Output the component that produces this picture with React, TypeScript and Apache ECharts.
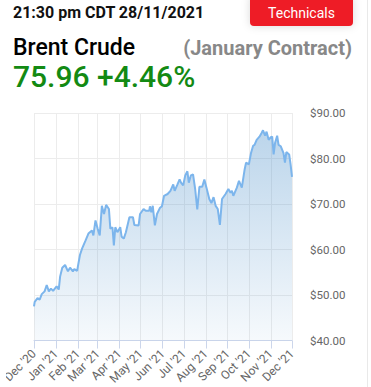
import React, { useEffect, useRef } from "react";
import * as echarts from "echarts";

const priceDates: string[] = [
  "2020-12-01","2020-12-02","2020-12-06","2020-12-09","2020-12-12","2020-12-16","2020-12-19","2020-12-22","2020-12-25","2020-12-28",
  "2021-01-02","2021-01-05","2021-01-07","2021-01-10","2021-01-14","2021-01-18","2021-01-21","2021-01-25","2021-01-27","2021-01-31",
  "2021-02-04","2021-02-07","2021-02-12","2021-02-16","2021-02-21","2021-02-23","2021-02-26",
  "2021-03-01","2021-03-04","2021-03-07","2021-03-10","2021-03-13","2021-03-17","2021-03-19","2021-03-22","2021-03-24","2021-03-26","2021-03-29",
  "2021-04-02","2021-04-04","2021-04-07","2021-04-10","2021-04-15","2021-04-20","2021-04-22","2021-04-28","2021-04-30",
  "2021-05-05","2021-05-08","2021-05-13","2021-05-14","2021-05-16","2021-05-18","2021-05-21","2021-05-24","2021-05-28","2021-05-31",
  "2021-06-03","2021-06-08","2021-06-12","2021-06-16","2021-06-18","2021-06-22","2021-06-25","2021-06-27","2021-06-30",
  "2021-07-03","2021-07-06","2021-07-08","2021-07-11","2021-07-14","2021-07-17","2021-07-20","2021-07-23","2021-07-27","2021-07-30",
  "2021-08-02","2021-08-06","2021-08-09","2021-08-12","2021-08-15","2021-08-18","2021-08-21","2021-08-24","2021-08-29",
  "2021-09-02","2021-09-05","2021-09-07","2021-09-09","2021-09-14","2021-09-17","2021-09-21","2021-09-25","2021-09-27",
  "2021-10-01","2021-10-04","2021-10-07","2021-10-09","2021-10-12","2021-10-16","2021-10-19","2021-10-21","2021-10-24","2021-10-26","2021-10-29",
  "2021-11-01","2021-11-03","2021-11-05","2021-11-07","2021-11-10","2021-11-12","2021-11-15","2021-11-19","2021-11-21","2021-11-23","2021-11-27","2021-11-29",
  "2021-12-01",
];

const priceValues: number[] = [
  47.5,48.5,49.3,49.0,50.2,50.8,52.2,50.8,51.4,50.9,
  51.9,51.2,54.1,56.0,56.6,55.2,56.0,55.2,55.7,55.3,
  58.8,60.2,62.0,63.5,64.2,63.1,66.4,
  64.6,63.1,69.6,67.8,69.8,68.9,64.6,64.9,60.9,64.9,63.8,
  64.9,62.8,62.4,63.8,67.1,67.1,65.4,65.3,67.8,
  68.9,68.5,68.5,69.5,68.2,69.6,65.3,67.8,69.1,69.5,
  71.8,72.2,72.9,74.3,72.9,74.3,75.4,74.7,74.1,
  76.3,77.2,74.7,76.3,76.5,73.3,68.8,73.8,73.8,75.4,
  73.6,71.1,70.2,71.5,69.6,68.9,65.4,71.1,72.2,
  73.3,72.5,72.9,71.8,73.6,75.1,73.6,77.6,79.1,
  78.7,81.2,82.8,83.0,84.1,84.8,85.6,86.2,85.0,85.9,84.1,
  84.7,84.8,80.9,83.4,85.0,83.0,82.7,81.2,79.1,81.4,80.9,78.7,
  75.96,
];

const monthNames: string[] = ["Jan","Feb","Mar","Apr","May","Jun","Jul","Aug","Sep","Oct","Nov","Dec"];
const axisStart = "2020-12-01";
const axisDayCount = 366;
const yMin = 40;
const yMax = 90;
const yStep = 10;

const headerTime = "21:30 pm CDT 28/11/2021";
const headerButton = "Technicals";
const headerName = "Brent Crude";
const headerContract = "(January Contract)";
const headerPrice = "75.96 +4.46%";

function buildDays(): string[] {
  const out: string[] = [];
  const [y, m, d] = axisStart.split("-").map(Number);
  const t0 = Date.UTC(y, m - 1, d);
  for (let i = 0; i < axisDayCount; i++) {
    const dt = new Date(t0 + i * 86400000);
    const mm = String(dt.getUTCMonth() + 1).padStart(2, "0");
    const dd = String(dt.getUTCDate()).padStart(2, "0");
    out.push(`${dt.getUTCFullYear()}-${mm}-${dd}`);
  }
  return out;
}

export default function App() {
  const ref = useRef<HTMLDivElement>(null);
  useEffect(() => {
    if (!ref.current) return;
    const chart = echarts.init(ref.current, undefined, { renderer: "svg" });
    const days = buildDays();
    const isMonthStart = (_i: number, v: string) => typeof v === "string" && v.endsWith("-01");
    const data = priceDates.map((d, i) => [d, priceValues[i]]);
    const font = "Roboto, 'Noto Sans', sans-serif";
    chart.setOption({
      animation: false,
      backgroundColor: "#fff",
      grid: { left: 25, right: 79, top: 113, bottom: 44, containLabel: false },
      xAxis: {
        type: "category",
        data: days,
        boundaryGap: false,
        axisLine: { show: true, lineStyle: { color: "#ccd6eb", width: 1 } },
        axisTick: { show: true, interval: isMonthStart, length: 8, lineStyle: { color: "#ccd6eb" } },
        axisLabel: {
          interval: isMonthStart,
          rotate: 45,
          margin: 11,
          color: "#666666",
          fontSize: 12,
          fontFamily: font,
          hideOverlap: false,
          formatter: (v: string) => {
            const [yy, mm] = v.split("-");
            return `${monthNames[Number(mm) - 1]} '${yy.slice(2)}`;
          },
        },
        splitLine: { show: true, interval: isMonthStart, lineStyle: { color: "#ececec", width: 1 } },
      },
      yAxis: {
        type: "value",
        position: "right",
        min: yMin,
        max: yMax,
        interval: yStep,
        axisLine: { show: false },
        axisTick: { show: false },
        axisLabel: {
          margin: 18,
          color: "#666666",
          fontSize: 11.5,
          fontFamily: font,
          formatter: (v: number) => `$${v.toFixed(2)}`,
        },
        splitLine: { show: true, lineStyle: { color: "#ececec", width: 1 } },
      },
      series: [
        {
          type: "line",
          data,
          symbol: "none",
          connectNulls: true,
          lineStyle: { color: "#7cb5ec", width: 2 },
          areaStyle: {
            color: new echarts.graphic.LinearGradient(0, 0, 0, 1, [
              { offset: 0, color: "rgba(70,140,200,0.52)" },
              { offset: 1, color: "rgba(70,140,200,0.07)" },
            ]),
          },
        },
      ],
      graphic: [
        { type: "rect", z: 100, shape: { x: 0, y: 345, width: 6, height: 42 }, style: { fill: "#ffffff" } },
        { type: "line", shape: { x1: 367.5, y1: 0, x2: 367.5, y2: 387 }, style: { stroke: "#e9e9e9", lineWidth: 1 } },
        {
          type: "rect",
          shape: { x: 250, y: -5, width: 103, height: 31, r: 4 },
          style: { fill: "#ee1c25", shadowBlur: 8, shadowColor: "rgba(0,0,0,0.15)" },
        },
        {
          type: "text",
          x: 301.5,
          y: 12.5,
          style: { text: headerButton, fill: "#ffffff", fontSize: 14, fontFamily: font, align: "center", verticalAlign: "middle" },
        },
        {
          type: "text",
          x: 13,
          y: 12,
          style: { text: headerTime, fill: "#111111", fontSize: 16, fontWeight: "bold", fontFamily: font, align: "left", verticalAlign: "middle" },
        },
        {
          type: "text",
          x: 13,
          y: 47.3,
          style: { text: headerName, fill: "#000000", fontSize: 23, fontWeight: 500, fontFamily: font, align: "left", verticalAlign: "middle" },
        },
        {
          type: "text",
          x: 352,
          y: 48,
          style: { text: headerContract, fill: "#888888", fontSize: 20, fontWeight: "bold", fontFamily: font, align: "right", verticalAlign: "middle" },
        },
        {
          type: "text",
          x: 13,
          y: 76.2,
          style: { text: headerPrice, fill: "#138a13", fontSize: 30, fontWeight: 500, fontFamily: font, align: "left", verticalAlign: "middle" },
        },
      ],
    });
    return () => chart.dispose();
  }, []);
  return <div ref={ref} style={{ position: "absolute", left: 0, top: 0, width: 371, height: 387 }} />;
}
